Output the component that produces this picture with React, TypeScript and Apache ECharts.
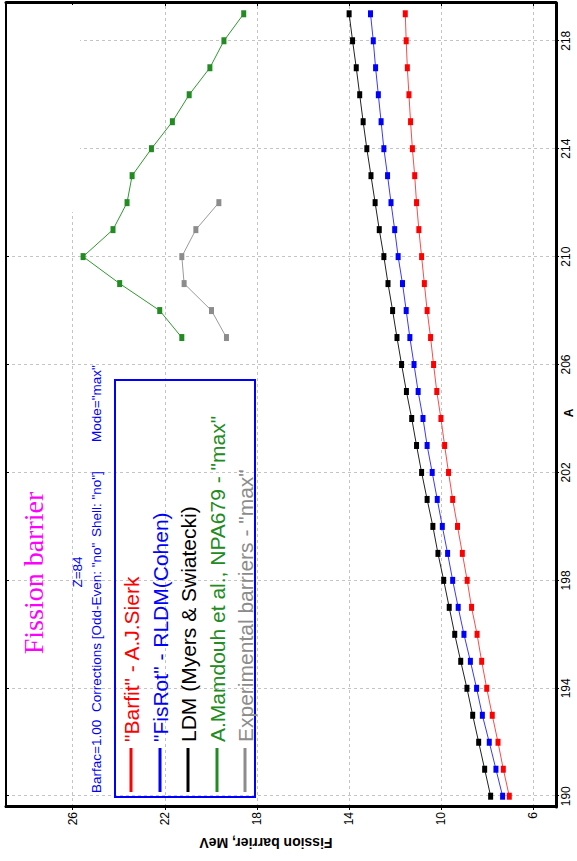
import React, { useEffect, useRef } from "react";
import * as echarts from "echarts";

// Mass number A (x in the original landscape chart)
const A_MODEL = [190, 191, 192, 193, 194, 195, 196, 197, 198, 199, 200, 201, 202, 203, 204, 205, 206, 207, 208, 209, 210, 211, 212, 213, 214, 215, 216, 217, 218, 219];
const BARFIT = [7.03, 7.29, 7.52, 7.77, 8.01, 8.23, 8.43, 8.67, 8.86, 9.07, 9.28, 9.49, 9.67, 9.84, 10.0, 10.18, 10.32, 10.45, 10.6, 10.72, 10.84, 10.96, 11.06, 11.14, 11.24, 11.32, 11.39, 11.46, 11.51, 11.55];
const FISROT = [7.32, 7.61, 7.9, 8.2, 8.45, 8.72, 9.0, 9.25, 9.49, 9.71, 9.94, 10.16, 10.38, 10.6, 10.78, 10.99, 11.17, 11.35, 11.51, 11.67, 11.86, 12.01, 12.17, 12.32, 12.48, 12.6, 12.72, 12.84, 12.94, 13.06];
const LDM = [7.84, 8.1, 8.36, 8.62, 8.87, 9.14, 9.4, 9.64, 9.88, 10.13, 10.35, 10.6, 10.84, 11.06, 11.27, 11.5, 11.71, 11.91, 12.1, 12.3, 12.48, 12.68, 12.86, 13.04, 13.22, 13.38, 13.53, 13.68, 13.84, 13.99];
const A_MAMDOUH = [207, 208, 209, 210, 211, 212, 213, 214, 215, 216, 217, 218, 219];
const MAMDOUH = [21.26, 22.22, 23.96, 25.55, 24.25, 23.64, 23.42, 22.58, 21.67, 20.94, 20.04, 19.43, 18.57];
const A_EXP = [207, 208, 209, 210, 211, 212];
const EXPERIMENT = [19.32, 19.97, 21.16, 21.26, 20.65, 19.65];

const A_TICKS = [190, 194, 198, 202, 206, 210, 214, 218];
const B_TICKS = [6, 10, 14, 18, 22, 26];

const LEGEND_NAMES = [
  '"Barfit" - A.J.Sierk',
  '"FisRot" - RLDM(Cohen)',
  "LDM (Myers & Swiatecki)",
  'A.Mamdouh et al., NPA679 - "max"',
  'Experimental barriers - "max"',
];
const COLORS = ["#ff0000", "#0000ff", "#000000", "#228b22", "#8c8c8c"];
const LINE_COLORS = ["#ff4a4a", "#3a3aff", "#222222", "#2e9a2e", "#9a9a9a"];

const zip = (xs: number[], ys: number[]) => xs.map((x, i) => [x, ys[i]]);

const SANS = "Liberation Sans";

export default function App() {
  const ref = useRef<HTMLDivElement>(null);

  useEffect(() => {
    if (!ref.current) return;
    const chart = echarts.init(ref.current, undefined, { renderer: "svg" });

    const seriesData = [
      zip(A_MODEL, BARFIT),
      zip(A_MODEL, FISROT),
      zip(A_MODEL, LDM),
      zip(A_MAMDOUH, MAMDOUH),
      zip(A_EXP, EXPERIMENT),
    ];

    const legendRows = [131, 160, 188, 217, 245];
    const legendGraphics: any[] = [];
    LEGEND_NAMES.forEach((name, i) => {
      legendGraphics.push({
        type: "line",
        z: 5,
        shape: { x1: 69, y1: legendRows[i], x2: 113, y2: legendRows[i] },
        style: { stroke: COLORS[i], lineWidth: 3 },
      });
      legendGraphics.push({
        type: "text",
        z: 5,
        x: 119,
        y: legendRows[i],
        style: {
          text: name,
          fill: COLORS[i],
          fontSize: 21,
          fontFamily: SANS,
          align: "left",
          verticalAlign: "middle",
        },
      });
    });

    const subStyle = (text: string) => ({
      text,
      fill: "#0000ff",
      fontSize: 13.5,
      fontFamily: SANS,
      align: "left",
      verticalAlign: "middle",
    });

    const option: any = {
      animation: false,
      backgroundColor: "#ffffff",
      grid: {
        left: 54,
        right: 3,
        top: 6,
        bottom: 21,
        show: true,
        borderColor: "#000",
        borderWidth: 2,
      },
      xAxis: [
        {
          type: "value",
          min: 189.6,
          max: 219.4,
          position: "bottom",
          axisLine: { show: true, onZero: false, lineStyle: { color: "#000", width: 3 } },
          axisTick: { show: true, length: 3, customValues: A_TICKS, lineStyle: { color: "#000" } },
          axisLabel: { customValues: A_TICKS, margin: 4, fontSize: 12, color: "#000", fontFamily: SANS },
          splitLine: { show: true, lineStyle: { color: "#c4c4c4", type: [3, 3], width: 1 } },
        },
        {
          type: "value",
          min: 189.6,
          max: 219.4,
          position: "top",
          axisLine: { show: false },
          axisTick: { show: true, inside: true, length: 3, customValues: A_TICKS, lineStyle: { color: "#000" } },
          axisLabel: { show: false },
          splitLine: { show: false },
        },
      ],
      yAxis: [
        {
          type: "value",
          min: 5,
          max: 28.9,
          position: "left",
          axisLine: { show: true, onZero: false, lineStyle: { color: "#000", width: 3 } },
          axisTick: { show: true, length: 3, customValues: B_TICKS, lineStyle: { color: "#000" } },
          axisLabel: { customValues: B_TICKS, margin: 5, fontSize: 12, color: "#000", fontFamily: SANS },
          splitLine: { show: true, lineStyle: { color: "#c4c4c4", type: [3, 3], width: 1 } },
        },
        {
          type: "value",
          min: 5,
          max: 28.9,
          position: "right",
          axisLine: { show: true, onZero: false, lineStyle: { color: "#000", width: 3 } },
          axisTick: { show: true, inside: true, length: 3, customValues: B_TICKS, lineStyle: { color: "#000" } },
          axisLabel: { show: false },
          splitLine: { show: false },
        },
      ],
      series: seriesData.map((d, i) => ({
        name: LEGEND_NAMES[i],
        type: "line",
        xAxisIndex: 0,
        yAxisIndex: 0,
        data: d,
        symbol: "rect",
        symbolSize: [7, 5],
        showSymbol: true,
        itemStyle: { color: COLORS[i] },
        lineStyle: { color: LINE_COLORS[i], width: 1 },
        z: 3 + (4 - i),
      })),
      graphic: [
        {
          type: "rect",
          z: 1,
          shape: { x: 649, y: 7, width: 207, height: 73 },
          style: { fill: "#ffffff" },
        },
        {
          type: "text",
          z: 5,
          x: 288,
          y: 33,
          style: {
            text: "Fission barrier",
            fill: "#ff00ff",
            fontSize: 28,
            fontFamily: "Liberation Serif",
            align: "center",
            verticalAlign: "middle",
          },
        },
        {
          type: "text",
          z: 5,
          x: 289,
          y: 77,
          style: { ...subStyle("Z=84"), align: "center" },
        },
        { type: "text", z: 5, x: 68, y: 96, style: subStyle("Barfac=1.00") },
        { type: "text", z: 5, x: 149, y: 96, style: subStyle('Corrections [Odd-Even: "no"') },
        { type: "text", z: 5, x: 324, y: 96, style: subStyle('Shell: "no"]') },
        { type: "text", z: 5, x: 419, y: 96, style: subStyle('Mode="max"') },
        {
          type: "rect",
          z: 5,
          shape: { x: 64, y: 115, width: 417, height: 140 },
          style: { fill: "none", stroke: "#0000ff", lineWidth: 2 },
        },
        ...legendGraphics,
        {
          type: "text",
          z: 5,
          x: 448,
          y: 569,
          style: { text: "A", fill: "#000", fontSize: 12, fontWeight: "bold", fontFamily: SANS, align: "center", verticalAlign: "middle" },
        },
        {
          type: "text",
          z: 5,
          x: 18,
          y: 266,
          rotation: Math.PI / 2,
          style: {
            text: "Fission barrier, MeV",
            fill: "#000",
            fontSize: 14,
            fontWeight: "bold",
            fontFamily: SANS,
            align: "center",
            verticalAlign: "middle",
          },
        },
      ],
    };

    chart.setOption(option);
    return () => {
      chart.dispose();
    };
  }, []);

  return (
    <div
      style={{
        position: "fixed",
        left: 0,
        top: 0,
        width: 577,
        height: 861,
        overflow: "hidden",
        background: "#ffffff",
      }}
    >
      <div
        ref={ref}
        style={{
          position: "absolute",
          left: 0,
          top: 0,
          width: 861,
          height: 577,
          transformOrigin: "0 0",
          transform: "translateY(861px) rotate(-90deg)",
        }}
      />
    </div>
  );
}
